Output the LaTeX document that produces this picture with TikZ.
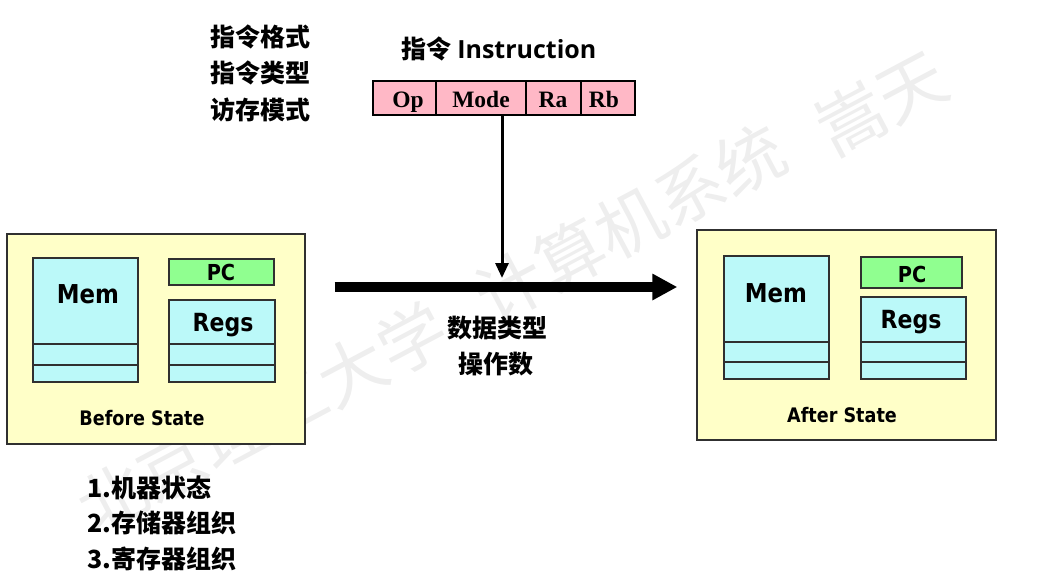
\documentclass[tikz,border=0pt]{standalone}
\usepackage{fontspec}
\newfontfamily\cjk{Noto Sans CJK SC}
\newfontfamily\lat[FakeStretch=0.88]{DejaVu Sans}
\newfontfamily\tnr{Liberation Serif}
\newfontfamily\osans{Open Sans}
\usetikzlibrary{arrows.meta}
\definecolor{boxyellow}{HTML}{FFFFC8}
\definecolor{memcyan}{HTML}{BBF9F9}
\definecolor{pcgreen}{HTML}{90FF90}
\definecolor{fieldpink}{HTML}{FFB8C6}
\definecolor{wmgray}{HTML}{EEEEEE}
\definecolor{edgegray}{HTML}{303030}
\begin{document}
\begin{tikzpicture}[x=1pt,y=-1pt,
  rectbox/.style={rectangle, inner sep=0pt, draw=edgegray, line width=1.4pt},
  statebox/.style={rectbox, fill=boxyellow},
  cyanbox/.style={rectbox, fill=memcyan},
  greenbox/.style={rectbox, fill=pcgreen},
  fieldbox/.style={rectbox, fill=fieldpink, draw=black, minimum height=34pt},
  divider/.style={draw=edgegray, line width=1.4pt},
  lattxt/.style={inner sep=0pt, anchor=base},
  fieldtxt/.style={lattxt, font=\tnr\bfseries\fontsize{23.5}{23.5}\selectfont},
  cjktxt/.style={inner sep=0pt, anchor=base, font=\cjk\bfseries\fontsize{25}{25}\selectfont},
  wm/.style={inner sep=0pt, text=wmgray, font=\cjk\fontsize{68}{68}\selectfont, rotate=28},
  thickarrow/.style={line width=9.5pt, -{Triangle[length=25pt,width=25pt]}},
  thinarrow/.style={line width=3pt, -{Triangle[length=15pt,width=13pt]}}
]
\useasboundingbox (0,0) rectangle (1051,581);
% watermark
\node[wm] (wm1) at (262,418) {北京理工大学};
\node[wm] (wm2) at (630,223) {计算机系统};
\node[wm] (wm3) at (881,103) {嵩天};

% before state
\node[statebox, minimum width=298pt, minimum height=210pt] (before) at (156,339) {};
\node[cyanbox, minimum width=105pt, minimum height=124pt] (memL) at (85.5,320) {};
\draw[divider] (memL.west |- 0,344) -- (memL.east |- 0,344);
\draw[divider] (memL.west |- 0,365) -- (memL.east |- 0,365);
\node[greenbox, minimum width=105pt, minimum height=26pt] (pcL) at (221.5,272) {};
\node[cyanbox, minimum width=106pt, minimum height=82pt] (regsL) at (222,341) {};
\draw[divider] (regsL.west |- 0,344) -- (regsL.east |- 0,344);
\draw[divider] (regsL.west |- 0,365) -- (regsL.east |- 0,365);
\node[lattxt, font=\lat\bfseries\fontsize{26}{26}\selectfont] (memLt) at (88,303) {Mem};
\node[lattxt, font=\lat\bfseries\fontsize{22}{22}\selectfont] (pcLt) at (221,280) {PC};
\node[lattxt, font=\lat\bfseries\fontsize{25}{25}\selectfont] (regsLt) at (223,331) {Regs};
\node[lattxt, font=\lat\bfseries\fontsize{20}{20}\selectfont] (beforet) at (142,425) {Before State};

% after state
\node[statebox, minimum width=299pt, minimum height=210pt] (after) at (846.5,335) {};
\node[cyanbox, minimum width=105pt, minimum height=123pt] (memR) at (776.5,317.5) {};
\draw[divider] (memR.west |- 0,342) -- (memR.east |- 0,342);
\draw[divider] (memR.west |- 0,362) -- (memR.east |- 0,362);
\node[greenbox, minimum width=101pt, minimum height=31pt] (pcR) at (911.5,272.5) {};
\node[cyanbox, minimum width=105pt, minimum height=82pt] (regsR) at (913.5,338) {};
\draw[divider] (regsR.west |- 0,342) -- (regsR.east |- 0,342);
\draw[divider] (regsR.west |- 0,362) -- (regsR.east |- 0,362);
\node[lattxt, font=\lat\bfseries\fontsize{26}{26}\selectfont] (memRt) at (776,302) {Mem};
\node[lattxt, font=\lat\bfseries\fontsize{22}{22}\selectfont] (pcRt) at (912,282) {PC};
\node[lattxt, font=\lat\bfseries\fontsize{25}{25}\selectfont] (regsRt) at (911,328) {Regs};
\node[lattxt, font=\lat\bfseries\fontsize{20}{20}\selectfont] (aftert) at (842,422) {After State};

% instruction
\node[fieldbox, minimum width=63pt] (fOp) at (404.5,98) {};
\node[fieldbox, minimum width=90pt] (fMode) at (481,98) {};
\node[fieldbox, minimum width=55pt] (fRa) at (553.5,98) {};
\node[fieldbox, minimum width=54pt] (fRb) at (608,98) {};
\node[fieldtxt] (tOp) at (408,107) {Op};
\node[fieldtxt] (tMode) at (481,107) {Mode};
\node[fieldtxt] (tRa) at (553,107) {Ra};
\node[fieldtxt] (tRb) at (604,107) {Rb};
\node[cjktxt, font=\cjk\bfseries\fontsize{25}{25}\selectfont] (ititle) at (499,58) {指令 {\osans\bfseries Instruction}};

% left top list
\node[cjktxt, anchor=base west] (l1) at (210,46.5) {指令格式};
\node[cjktxt, anchor=base west] (l2) at (210,82.5) {指令类型};
\node[cjktxt, anchor=base west] (l3) at (210,119.5) {访存模式};

% middle labels
\node[cjktxt] (m1) at (497,337.5) {数据类型};
\node[cjktxt] (m2) at (496,373.5) {操作数};

% bottom list
\node[cjktxt, anchor=base west] (b1) at (87,497.5) {1.机器状态};
\node[cjktxt, anchor=base west] (b2) at (87,532.5) {2.存储器组织};
\node[cjktxt, anchor=base west] (b3) at (87,568.5) {3.寄存器组织};

% arrows
\draw[thickarrow, shorten <=29pt, shorten >=19pt] (before.east |- 0,287) -- (after.west |- 0,287);
\coordinate (vend) at (502,278);
\draw[thinarrow] (fMode.south -| vend) -- (vend);
\end{tikzpicture}
\end{document}
